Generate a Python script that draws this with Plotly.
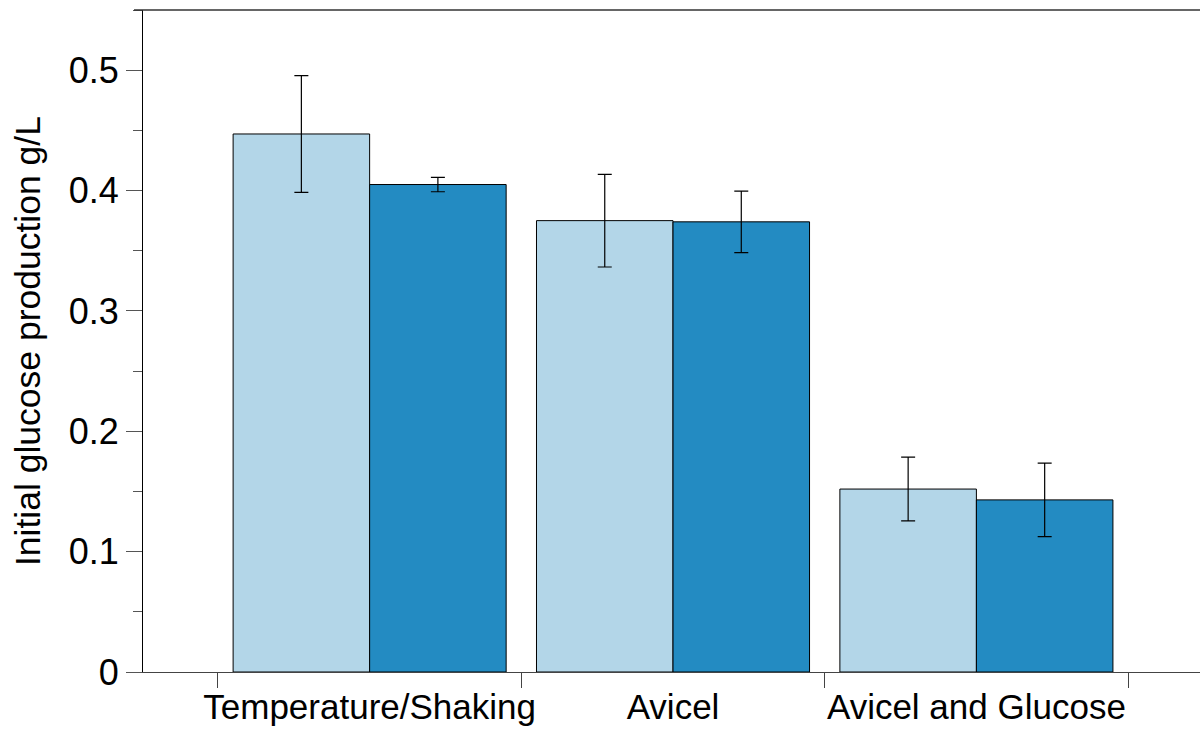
import plotly.graph_objects as go

# Experimental conditions and measured initial glucose production (g/L)
categories = ["Temperature/Shaking", "Avicel", "Avicel and Glucose"]
series_a = [0.447, 0.375, 0.152]
series_a_err = [0.0485, 0.0385, 0.0265]
series_b = [0.405, 0.374, 0.143]
series_b_err = [0.006, 0.0255, 0.0305]

y_ticks = [0, 0.1, 0.2, 0.3, 0.4, 0.5]
y_tick_text = ["0", "0.1", "0.2", "0.3", "0.4", "0.5"]
y_title = "Initial glucose production g/L"

FONT = "Liberation Sans, Arial, Helvetica, sans-serif"
PLOT_LEFT, PLOT_W = 143, 1057

fig = go.Figure()
for vals, errs, color in [(series_a, series_a_err, "#b3d6e8"),
                          (series_b, series_b_err, "#238bc2")]:
    fig.add_trace(go.Bar(
        x=categories, y=vals,
        marker=dict(color=color, line=dict(color="#000000", width=1)),
        error_y=dict(type="data", array=errs, visible=True,
                     color="#000000", thickness=1.2, width=7),
        showlegend=False,
    ))

fig.update_layout(
    width=1200, height=732,
    margin=dict(l=PLOT_LEFT, r=0, t=10, b=60),
    paper_bgcolor="white", plot_bgcolor="white",
    barmode="group", bargap=0.1, bargroupgap=0,
    font=dict(family=FONT, size=33, color="#000000"),
    xaxis=dict(
        type="category", range=[-0.747, 2.737], automargin=False,
        tickangle=0, ticklabelstandoff=4,
        tickson="boundaries", ticks="outside", ticklen=15, tickwidth=1,
        tickcolor="#444444", showline=True, linecolor="#444444", linewidth=1,
        showgrid=False, zeroline=False,
        tickfont=dict(family=FONT, size=35, color="#000000"),
    ),
    yaxis=dict(
        range=[0, 0.55], tickvals=y_ticks, ticktext=y_tick_text,
        automargin=False,
        ticks="outside", ticklen=16, tickwidth=1, tickcolor="#555555",
        showline=True, linecolor="#000000", linewidth=1,
        showgrid=False, zeroline=False,
        minor=dict(dtick=0.05, ticks="outside", ticklen=9,
                   tickcolor="#555555", tickwidth=1, showgrid=False),
        tickfont=dict(family=FONT, size=36, color="#000000"),
    ),
)

# Rotated y-axis title
fig.add_annotation(
    text=y_title, textangle=-90, showarrow=False,
    xref="paper", yref="paper",
    x=(28 - PLOT_LEFT) / PLOT_W, y=0.5, xanchor="center", yanchor="middle",
    font=dict(family=FONT, size=35.5, color="#000000"),
)

# Top frame line
fig.add_shape(type="line", xref="paper", yref="paper",
              x0=-9 / PLOT_W, x1=1, y0=1, y1=1,
              line=dict(color="#333333", width=1.5))

fig.write_html("out.html")
